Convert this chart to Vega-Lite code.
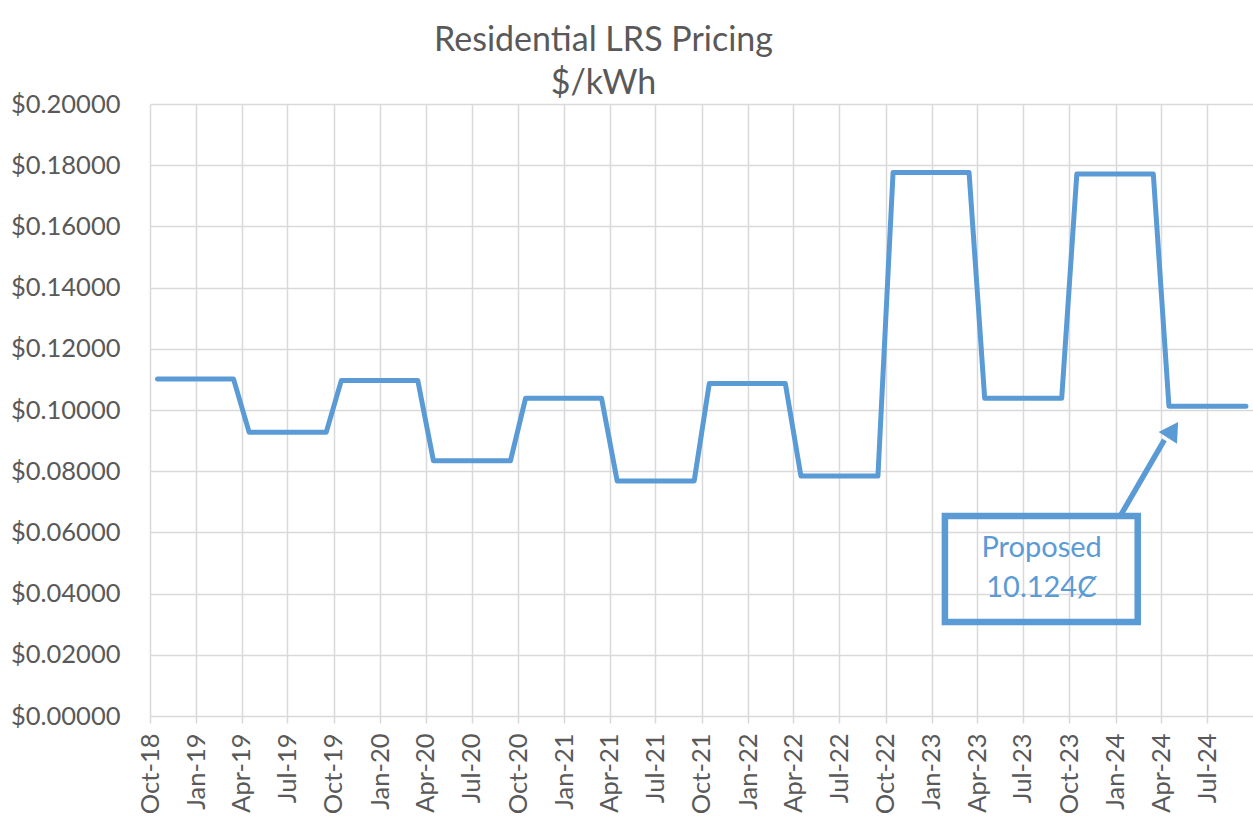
{
  "$schema": "https://vega.github.io/schema/vega-lite/v6.json",
  "width": 1103,
  "height": 612,
  "autosize": {"type": "none"},
  "padding": {"left": 150, "top": 104, "right": 0, "bottom": 100},
  "background": "white",
  "config": {
    "view": {"stroke": null},
    "font": "Lato",
    "axis": {
      "labelFont": "Lato",
      "labelFontSize": 25.5,
      "labelColor": "#595959",
      "gridColor": "#d9d9d9",
      "gridWidth": 1.5,
      "domain": false,
      "title": null
    }
  },
  "title": {
    "text": ["Residential LRS Pricing", "$/kWh"],
    "font": "Lato",
    "fontSize": 34,
    "fontWeight": "normal",
    "color": "#595959",
    "anchor": "middle",
    "dx": -98,
    "offset": -9,
    "lineHeight": 43
  },
  "datasets": {
    "prices": [
      {"date": "2018-10-16", "value": 0.1101},
      {"date": "2018-11-16", "value": 0.1101},
      {"date": "2018-12-16", "value": 0.1101},
      {"date": "2019-01-16", "value": 0.1101},
      {"date": "2019-02-16", "value": 0.1101},
      {"date": "2019-03-16", "value": 0.1101},
      {"date": "2019-04-16", "value": 0.0927},
      {"date": "2019-05-16", "value": 0.0927},
      {"date": "2019-06-16", "value": 0.0927},
      {"date": "2019-07-16", "value": 0.0927},
      {"date": "2019-08-16", "value": 0.0927},
      {"date": "2019-09-16", "value": 0.0927},
      {"date": "2019-10-16", "value": 0.1096},
      {"date": "2019-11-16", "value": 0.1096},
      {"date": "2019-12-16", "value": 0.1096},
      {"date": "2020-01-16", "value": 0.1096},
      {"date": "2020-02-16", "value": 0.1096},
      {"date": "2020-03-16", "value": 0.1096},
      {"date": "2020-04-16", "value": 0.0834},
      {"date": "2020-05-16", "value": 0.0834},
      {"date": "2020-06-16", "value": 0.0834},
      {"date": "2020-07-16", "value": 0.0834},
      {"date": "2020-08-16", "value": 0.0834},
      {"date": "2020-09-16", "value": 0.0834},
      {"date": "2020-10-16", "value": 0.1038},
      {"date": "2020-11-16", "value": 0.1038},
      {"date": "2020-12-16", "value": 0.1038},
      {"date": "2021-01-16", "value": 0.1038},
      {"date": "2021-02-16", "value": 0.1038},
      {"date": "2021-03-16", "value": 0.1038},
      {"date": "2021-04-16", "value": 0.0768},
      {"date": "2021-05-16", "value": 0.0768},
      {"date": "2021-06-16", "value": 0.0768},
      {"date": "2021-07-16", "value": 0.0768},
      {"date": "2021-08-16", "value": 0.0768},
      {"date": "2021-09-16", "value": 0.0768},
      {"date": "2021-10-16", "value": 0.1087},
      {"date": "2021-11-16", "value": 0.1087},
      {"date": "2021-12-16", "value": 0.1087},
      {"date": "2022-01-16", "value": 0.1087},
      {"date": "2022-02-16", "value": 0.1087},
      {"date": "2022-03-16", "value": 0.1087},
      {"date": "2022-04-16", "value": 0.0784},
      {"date": "2022-05-16", "value": 0.0784},
      {"date": "2022-06-16", "value": 0.0784},
      {"date": "2022-07-16", "value": 0.0784},
      {"date": "2022-08-16", "value": 0.0784},
      {"date": "2022-09-16", "value": 0.0784},
      {"date": "2022-10-16", "value": 0.1776},
      {"date": "2022-11-16", "value": 0.1776},
      {"date": "2022-12-16", "value": 0.1776},
      {"date": "2023-01-16", "value": 0.1776},
      {"date": "2023-02-16", "value": 0.1776},
      {"date": "2023-03-16", "value": 0.1776},
      {"date": "2023-04-16", "value": 0.1038},
      {"date": "2023-05-16", "value": 0.1038},
      {"date": "2023-06-16", "value": 0.1038},
      {"date": "2023-07-16", "value": 0.1038},
      {"date": "2023-08-16", "value": 0.1038},
      {"date": "2023-09-16", "value": 0.1038},
      {"date": "2023-10-16", "value": 0.1771},
      {"date": "2023-11-16", "value": 0.1771},
      {"date": "2023-12-16", "value": 0.1771},
      {"date": "2024-01-16", "value": 0.1771},
      {"date": "2024-02-16", "value": 0.1771},
      {"date": "2024-03-16", "value": 0.1771},
      {"date": "2024-04-16", "value": 0.10124},
      {"date": "2024-05-16", "value": 0.10124},
      {"date": "2024-06-16", "value": 0.10124},
      {"date": "2024-07-16", "value": 0.10124},
      {"date": "2024-08-16", "value": 0.10124},
      {"date": "2024-09-16", "value": 0.10124}
    ],
    "box": [
      {"date": "2023-01-27", "date2": "2024-02-14", "value": 0.0307, "value2": 0.0654}
    ],
    "arrow": [
      {"date": "2024-01-09", "value": 0.065},
      {"date": "2024-04-07", "value": 0.0902}
    ],
    "head": [
      {"date": "2024-04-24", "value": 0.0935}
    ],
    "labels": [
      {"date": "2023-08-07", "value": 0.052, "text": "Proposed"},
      {"date": "2023-08-07", "value": 0.0389, "text": "10.124Ȼ"}
    ]
  },
  "layer": [
    {
      "data": {"name": "prices"},
      "mark": {"type": "line", "color": "#5B9BD5", "strokeWidth": 5, "strokeCap": "round", "strokeJoin": "round"},
      "encoding": {
        "x": {
          "field": "date",
          "type": "temporal",
          "scale": {"domain": [{"year": 2018, "month": 10, "date": 1}, {"year": 2024, "month": 9, "date": 30}], "nice": false},
          "axis": {
            "format": "%b-%y",
            "tickCount": {"interval": "month", "step": 3},
            "labelAngle": -90,
            "labelPadding": 10,
            "ticks": true,
            "tickSize": 7,
            "tickColor": "#d9d9d9",
            "tickWidth": 1.5,
            "grid": true,
            "labelFlush": false,
            "labelOverlap": false,
            "labelBound": false
          }
        },
        "y": {
          "field": "value",
          "type": "quantitative",
          "scale": {"domain": [0, 0.2], "nice": false, "zero": true},
          "axis": {
            "format": "$.5f",
            "tickCount": 10,
            "ticks": false,
            "tickSize": 0,
            "labelPadding": 30,
            "grid": true,
            "labelFlush": false,
            "labelOverlap": false
          }
        }
      }
    },
    {
      "data": {"name": "box"},
      "mark": {"type": "rect", "fill": "transparent", "stroke": "#5B9BD5", "strokeWidth": 6.5, "strokeJoin": "miter"},
      "encoding": {
        "x": {"field": "date", "type": "temporal"},
        "x2": {"field": "date2"},
        "y": {"field": "value", "type": "quantitative"},
        "y2": {"field": "value2"}
      }
    },
    {
      "data": {"name": "arrow"},
      "mark": {"type": "line", "color": "#5B9BD5", "strokeWidth": 5.5, "strokeCap": "butt"},
      "encoding": {
        "x": {"field": "date", "type": "temporal"},
        "y": {"field": "value", "type": "quantitative"}
      }
    },
    {
      "data": {"name": "head"},
      "mark": {"type": "point", "shape": "triangle-up", "filled": true, "color": "#5B9BD5", "opacity": 1, "size": 480, "angle": 33},
      "encoding": {
        "x": {"field": "date", "type": "temporal"},
        "y": {"field": "value", "type": "quantitative"}
      }
    },
    {
      "data": {"name": "labels"},
      "mark": {"type": "text", "color": "#5B9BD5", "fontSize": 29, "font": "Lato", "align": "center", "baseline": "alphabetic"},
      "encoding": {
        "x": {"field": "date", "type": "temporal"},
        "y": {"field": "value", "type": "quantitative"},
        "text": {"field": "text"}
      }
    }
  ]
}
